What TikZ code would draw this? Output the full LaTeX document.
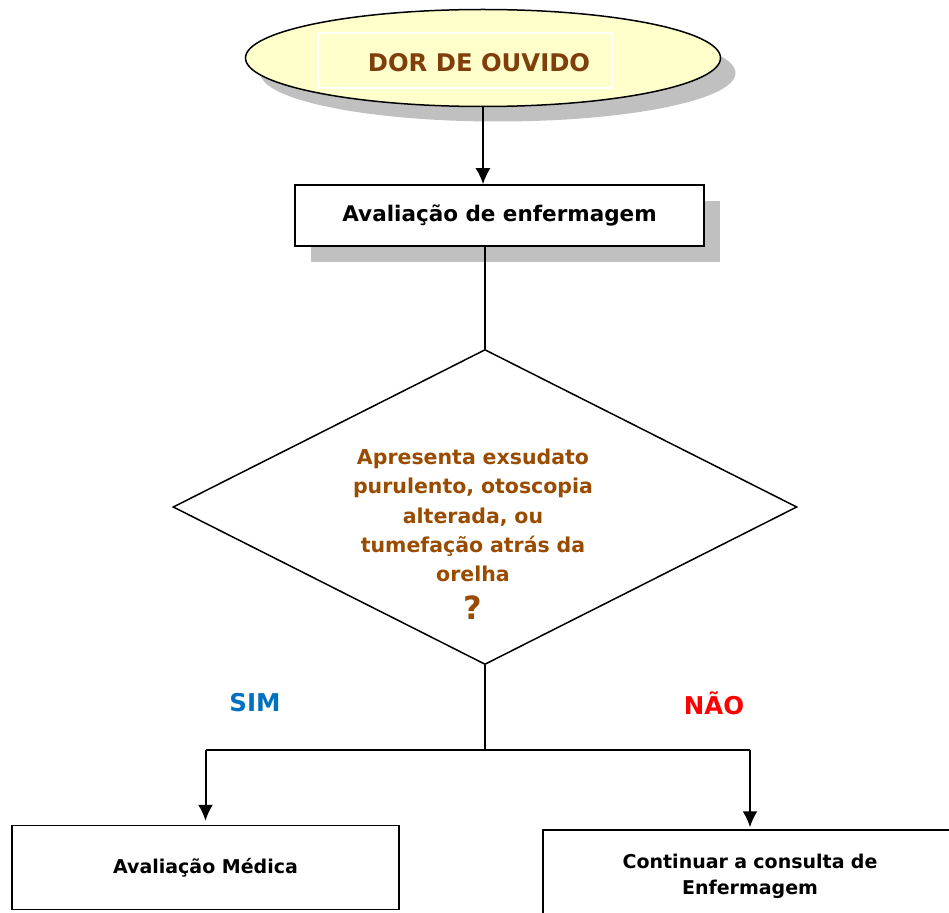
\documentclass[tikz,border=0pt]{standalone}
\usepackage{fontspec}
\setmainfont{DejaVu Sans}
\usetikzlibrary{shapes.geometric,shadows,positioning,arrows.meta}

\definecolor{earbrown}{RGB}{128,62,12}
\definecolor{askbrown}{RGB}{153,76,0}
\definecolor{simblue}{RGB}{0,112,192}
\definecolor{naored}{RGB}{255,0,0}
\definecolor{startfill}{RGB}{255,255,204}
\definecolor{shade}{RGB}{192,192,192}

\tikzstyle{start} = [ellipse, draw, fill=startfill, line width=1.5pt,
    minimum width=475, minimum height=97,
    drop shadow={shadow xshift=15pt, shadow yshift=-15pt, fill=shade, opacity=1}]
\tikzstyle{block} = [rectangle, draw, fill=white, line width=1.5pt,
    text centered, font=\bfseries\fontsize{21.5}{26}\selectfont]
\tikzstyle{decision} = [diamond, draw, line width=1.5pt, inner sep=0pt,
    minimum width=624, minimum height=315]
\tikzstyle{answer} = [font=\bfseries\fontsize{24.5}{28}\selectfont]
\tikzstyle{line} = [draw, line width=2pt]
\tikzstyle{arrow} = [draw, line width=2pt, -{Latex[length=16pt,width=15pt]}]

\begin{document}
\begin{tikzpicture}[x=1pt, y=-1pt]
    \useasboundingbox (0,0) rectangle (949,912);

    \node [start] (Pain) at (483,58) {};
    \node [draw=white, line width=1.2pt, minimum width=294, minimum height=55] (PainFrame) at (465,60.5) {};
    \node [text=earbrown, font=\bfseries\fontsize{24.3}{28}\selectfont] (PainText) at (479,63) {DOR DE OUVIDO};

    \node [block, minimum width=409, minimum height=61, drop shadow={shadow xshift=16pt, shadow yshift=-16pt, fill=shade, opacity=1}] (Nursing) at (499.5,215.5) {Avaliação de enfermagem};

    \node [decision] (Question) at (485,507) {};
    \node [text width=320, align=center, text=askbrown, inner sep=0pt,
           font=\bfseries\fontsize{20.5}{29.3}\selectfont] (QuestionText) at (473,534)
        {Apresenta exsudato\\ purulento, otoscopia\\ alterada, ou\\ tumefação atrás da\\ orelha\\[8pt] {\fontsize{32}{32}\selectfont ?}};

    \node [answer, text=simblue] (Sim) at (255,703) {SIM};
    \node [answer, text=naored] (Nao) at (714,703) {NÃO};

    \node [block, minimum width=387, minimum height=84, font=\bfseries\fontsize{19}{26}\selectfont] (Medical) at (205.5,867.5) {Avaliação Médica};
    \node [block, minimum width=414, minimum height=92, text width=320, align=center,
           font=\bfseries\fontsize{19}{26}\selectfont] (Continue) at (750,876) {Continuar a consulta de\\ Enfermagem};

    \coordinate (Split) at (485,750);

    \path [arrow] (Pain.south) -- (Nursing.north -| Pain.south);
    \path [line] (Nursing.south -| Question.north) -- (Question.north);
    \path [line] (Question.south) -- ([yshift=-1pt]Split);
    \path [line] (Split -| Medical.north) -- (Split -| Continue.north);
    \path [arrow] (Split -| Medical.north) -- ([yshift=4pt]Medical.north);
    \path [arrow] (Split -| Continue.north) -- ([yshift=2pt]Continue.north);
\end{tikzpicture}
\end{document}
